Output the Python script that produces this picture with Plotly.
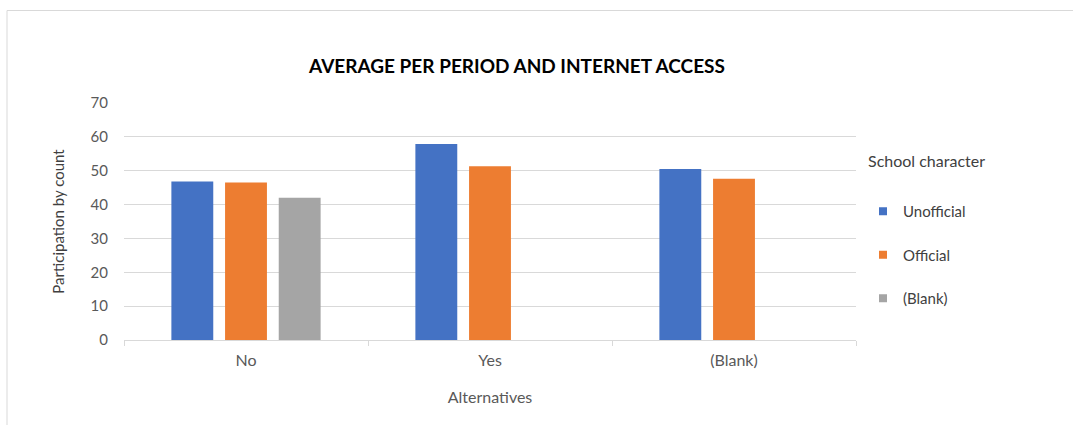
import plotly.graph_objects as go

# Category groups on the x axis
categories = ["No", "Yes", "(Blank)"]

# Average participation per school character
unofficial = [46.8, 57.9, 50.5]
official = [46.5, 51.3, 47.6]
blank = [42.0, None, None]

series_names = ["Unofficial", "Official", "(Blank)"]
series_values = [unofficial, official, blank]
series_colors = ["#4472C4", "#ED7D31", "#A5A5A5"]

y_ticks = [0, 10, 20, 30, 40, 50, 60, 70]

FONT = "Lato, 'Open Sans', sans-serif"
TEXT = "#595959"

W, H = 1073, 425
L, R, T, B = 124, 217, 103, 85
pw, ph = W - L - R, H - T - B

fig = go.Figure()
for name, vals, col in zip(series_names, series_values, series_colors):
    fig.add_trace(go.Bar(
        x=categories, y=vals, name=name,
        marker=dict(color=col, line=dict(width=0)),
        showlegend=False,
    ))

# Small square swatches for the legend
for i, (name, col) in enumerate(zip(series_names, series_colors)):
    fig.add_trace(go.Scatter(
        x=[None], y=[None], mode="markers", name=name,
        marker=dict(symbol="square", size=8, color=col),
        legendgroup=f"g{i}",
    ))


def px_x(x):
    return (x - L) / pw


def px_y(y):
    return (H - B - y) / ph


# Outer chart frame (left and top edges fall inside the page)
fig.add_shape(type="rect", xref="paper", yref="paper",
              x0=px_x(7), x1=px_x(1200), y0=px_y(500), y1=px_y(10.5),
              line=dict(color="#D9D9D9", width=1), fillcolor="rgba(0,0,0,0)",
              layer="below")

fig.add_annotation(text="School character", xref="paper", yref="paper",
                   x=px_x(866), y=px_y(160), xanchor="left", yanchor="middle",
                   showarrow=False, font=dict(family=FONT, size=16, color="#404040"))

fig.update_layout(
    width=W, height=H,
    margin=dict(l=L, r=R, t=T, b=B, autoexpand=False),
    paper_bgcolor="white", plot_bgcolor="white",
    barmode="group", bargap=0.34, bargroupgap=0.22,
    title=dict(text="<b>AVERAGE PER PERIOD AND INTERNET ACCESS</b>",
               x=px_x(517), xref="paper", xanchor="center",
               y=1 - 66 / H, yanchor="middle",
               font=dict(family=FONT, size=19, color="#000000")),
    font=dict(family=FONT, size=15, color=TEXT),
    legend=dict(x=px_x(863), y=px_y(195), xanchor="left", yanchor="top",
                xref="paper", yref="paper",
                font=dict(family=FONT, size=15, color="#404040"),
                traceorder="grouped", tracegroupgap=21,
                bgcolor="rgba(0,0,0,0)", itemwidth=30),
    xaxis=dict(
        showline=True, linecolor="#D9D9D9", linewidth=1,
        ticks="outside", tickson="boundaries", ticklen=5, tickcolor="#D9D9D9",
        ticklabelstandoff=6,
        tickfont=dict(family=FONT, size=16, color=TEXT),
        title=dict(text="Alternatives", standoff=23,
                   font=dict(family=FONT, size=16, color=TEXT)),
        showgrid=False,
    ),
    yaxis=dict(
        range=[0, 70], tickvals=y_ticks,
        showgrid=True, gridcolor="#D9D9D9", gridwidth=1,
        zeroline=False, showline=False,
        ticklabelstandoff=15,
        tickfont=dict(family=FONT, size=15, color=TEXT),
        title=dict(text="Participation by count", standoff=22,
                   font=dict(family=FONT, size=15, color="#404040")),
    ),
)

fig.write_html("out.html")
